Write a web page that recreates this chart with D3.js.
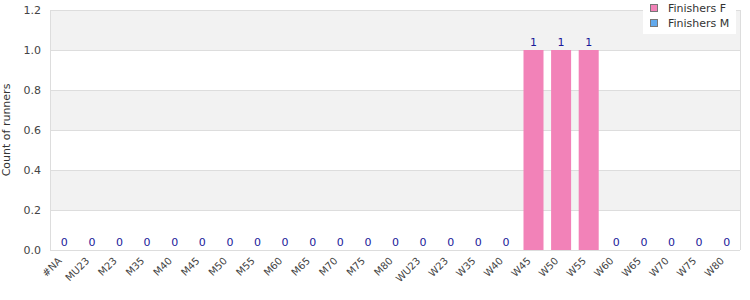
<!DOCTYPE html>
<html>
<head>
<meta charset="utf-8">
<script src="https://cdn.jsdelivr.net/npm/d3@7"></script>
<style>
  body { margin: 0; background: #fff; }
  svg { font-family: "DejaVu Sans", sans-serif; display: block; }
</style>
</head>
<body>
<div id="chart"></div>
<script>
// age categories and counts
const categories = ["#NA", "MU23", "M23", "M35", "M40", "M45", "M50", "M55", "M60", "M65", "M70", "M75", "M80",
  "WU23", "W23", "W35", "W40", "W45", "W50", "W55", "W60", "W65", "W70", "W75", "W80"];
const finishersF = [0, 0, 0, 0, 0, 0, 0, 0, 0, 0, 0, 0, 0, 0, 0, 0, 0, 1, 1, 1, 0, 0, 0, 0, 0];
const finishersM = [0, 0, 0, 0, 0, 0, 0, 0, 0, 0, 0, 0, 0, 0, 0, 0, 0, 0, 0, 0, 0, 0, 0, 0, 0];
const yTicks = [0, 0.2, 0.4, 0.6, 0.8, 1.0, 1.2];
const seriesNames = ["Finishers F", "Finishers M"];
const seriesColors = ["#f282b8", "#62a9ec"];

const W = 750, H = 300;
const margin = {top: 10, right: 10, bottom: 50, left: 50};
const width = W - margin.left - margin.right;
const height = H - margin.top - margin.bottom;

const svg = d3.select("#chart").append("svg")
  .attr("width", W).attr("height", H);
const g = svg.append("g")
  .attr("transform", "translate(" + margin.left + "," + margin.top + ")");

const x = d3.scaleBand().domain(categories).range([0, width]).paddingInner(0.275).paddingOuter(0.1375);
const y = d3.scaleLinear().domain([0, 1.2]).range([height, 0]);

// alternating background bands
for (let i = 0; i < yTicks.length - 1; i++) {
  if (i % 2 === 1) {
    g.append("rect")
      .attr("x", 0).attr("width", width)
      .attr("y", y(yTicks[i + 1])).attr("height", y(yTicks[i]) - y(yTicks[i + 1]))
      .attr("fill", "#f2f2f2");
  }
}

// grid lines
g.selectAll(".grid").data(yTicks).enter().append("line")
  .attr("x1", 0).attr("x2", width)
  .attr("y1", d => Math.round(y(d)) + 0.5).attr("y2", d => Math.round(y(d)) + 0.5)
  .attr("stroke", "#dddddd");

// frame (left and right)
g.append("line").attr("x1", 0.5).attr("x2", 0.5).attr("y1", 0).attr("y2", height).attr("stroke", "#dddddd");
g.append("line").attr("x1", width + 0.5).attr("x2", width + 0.5).attr("y1", 0).attr("y2", height).attr("stroke", "#dddddd");

// bars (F series; M series is all zero)
const data = categories.map((c, i) => ({cat: c, f: finishersF[i], m: finishersM[i]}));
g.selectAll(".bar").data(data).enter().append("rect")
  .attr("x", d => x(d.cat) + 0.5)
  .attr("width", x.bandwidth())
  .attr("y", d => y(d.f))
  .attr("height", d => y(0) - y(d.f))
  .attr("fill", seriesColors[0]);

// value labels
g.selectAll(".lbl").data(data).enter().append("text")
  .attr("x", d => x(d.cat) + 0.5 + x.bandwidth() / 2)
  .attr("y", d => y(d.f) - 4)
  .attr("text-anchor", "middle")
  .attr("font-size", 11)
  .attr("fill", "#1a1a9a")
  .text(d => d.f);

// y axis
const yAxis = g.append("g").call(d3.axisLeft(y).tickValues(yTicks).tickFormat(d3.format(".1f")).tickSize(0).tickPadding(9));
yAxis.select(".domain").remove();
yAxis.selectAll("text").attr("font-size", 11).attr("fill", "#444").attr("font-family", "DejaVu Sans, sans-serif");

// x axis
const xAxis = g.append("g").attr("transform", "translate(0," + height + ")")
  .call(d3.axisBottom(x).tickSize(0).tickPadding(0));
xAxis.select(".domain").remove();
xAxis.selectAll("text")
  .attr("font-size", 10).attr("fill", "#444").attr("font-family", "DejaVu Sans, sans-serif")
  .attr("text-anchor", "end")
  .attr("dy", "0.35em")
  .attr("transform", "translate(-4,9) rotate(-45)");

// y label
svg.append("text")
  .attr("transform", "translate(10," + (margin.top + height / 2) + ") rotate(-90)")
  .attr("text-anchor", "middle")
  .attr("font-size", 11).attr("fill", "#333")
  .text("Count of runners");

// legend
const leg = svg.append("g").attr("transform", "translate(643,0)");
leg.append("rect").attr("width", 93).attr("height", 34).attr("fill", "#fff");
seriesNames.forEach((s, i) => {
  leg.append("rect")
    .attr("x", 7.5).attr("y", 4.5 + i * 15).attr("width", 7).attr("height", 7)
    .attr("fill", seriesColors[i]).attr("stroke", "#777");
  leg.append("text")
    .attr("x", 25).attr("y", 12 + i * 15)
    .attr("font-size", 11).attr("fill", "#333")
    .text(s);
});
</script>
</body>
</html>
